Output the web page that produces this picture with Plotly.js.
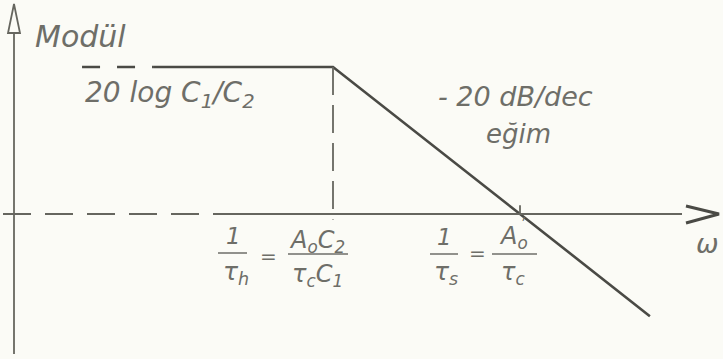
<!DOCTYPE html>
<html>
<head>
<meta charset="utf-8">
<script src="https://cdn.plot.ly/plotly-3.0.1.min.js"></script>
<style>
  html, body { margin: 0; padding: 0; background: #fbfbf6; }
  #chart { width: 723px; height: 359px; }
</style>
</head>
<body>
<div id="chart"></div>
<script>
// Asymptotic Bode magnitude plot (schematic): flat gain, corner at 1/τh,
// -20 dB/dec roll-off crossing 0 dB at 1/τs.
const cornerOmega = 1;          // 1/τh
const unityOmega = 100;         // 1/τs = A0/τc
const plateauDb = 40;           // 20 log C1/C2

// lead-in of the flat part (drawn dashed)
const leadOmega = [0.00207, 0.0119];
const leadDb = [40, 40];

// asymptote: flat, then -20 dB/dec
const asymOmega = [0.0119, 1, 100, 2450];
const asymDb = [40, 40, 0, -27.8];

// dashed drop line under the corner, tick at the 0 dB crossing
const dropDb = [40, -1.5];
const tickDb = [0, 2.4];

const W = 723, H = 359;
const px = p => p / W;
const py = p => 1 - p / H;
const path = pts => pts.map((p, i) => (i ? 'L' : 'M') + px(p[0]).toFixed(5) + ',' + py(p[1]).toFixed(5)).join(' ');

const ink = '#4a4a45';
const axisInk = '#66665f';
const textInk = '#6e6e68';
const FONT = 'DejaVu Sans';

const traces = [
  { x: leadOmega, y: leadDb, mode: 'lines', line: { color: ink, width: 2.6, dash: '18px,17px' }, hoverinfo: 'skip' },
  { x: asymOmega, y: asymDb, mode: 'lines', line: { color: ink, width: 2.6 }, hoverinfo: 'skip' },
  { x: [cornerOmega, cornerOmega], y: dropDb, mode: 'lines', line: { color: axisInk, width: 1.8, dash: '28px,10px' }, hoverinfo: 'skip' },
  { x: [unityOmega, unityOmega], y: tickDb, mode: 'lines', line: { color: axisInk, width: 1.8 }, hoverinfo: 'skip' }
];

function label(text, x, y, size, extra) {
  return Object.assign({
    xref: 'paper', yref: 'paper', x: px(x), y: py(y),
    xanchor: 'center', yanchor: 'middle', showarrow: false,
    text: text,
    font: { family: FONT, size: size, color: textInk, style: 'italic' }
  }, extra || {});
}

function bar(x0, x1, y) {
  return { type: 'line', xref: 'paper', yref: 'paper', x0: px(x0), x1: px(x1), y0: py(y), y1: py(y),
           line: { color: textInk, width: 1.5 } };
}

const annotations = [
  label('Modül', 80, 36, 30),
  label('20 log C<sub>1</sub>/C<sub>2</sub>', 170, 94, 28),
  label('- 20 dB/dec', 515, 97, 27),
  label('eğim', 518, 134, 26),
  label('ω', 707, 244, 27),
  // 1/τh = A0C2 / τcC1
  label('1', 233, 236, 23),
  label('τ<sub>h</sub>', 236, 273, 25),
  label('=', 268, 256, 20),
  label('A<sub>o</sub>C<sub>2</sub>', 317, 241, 24),
  label('τ<sub>c</sub>C<sub>1</sub>', 317, 275, 24),
  // 1/τs = A0/τc
  label('1', 444, 237, 23),
  label('τ<sub>s</sub>', 446, 273, 25),
  label('=', 477, 253, 20),
  label('A<sub>o</sub>', 513, 237, 24),
  label('ʹ', 523, 225, 15),
  label('τ<sub>c</sub>', 513, 273, 24)
];

const shapes = [
  // vertical axis with open arrowhead
  { type: 'line', xref: 'paper', yref: 'paper', x0: px(14), x1: px(14), y0: py(33), y1: py(354), line: { color: axisInk, width: 1.8 } },
  { type: 'path', xref: 'paper', yref: 'paper', path: path([[14, 4], [8, 33], [20, 33]]) + ' Z', line: { color: axisInk, width: 1.8 }, fillcolor: 'rgba(0,0,0,0)' },
  // horizontal axis: dashed on the left, solid to the arrow
  { type: 'line', xref: 'paper', yref: 'y', x0: px(3), x1: px(218), y0: 0, y1: 0, line: { color: axisInk, width: 1.8, dash: '28px,14px' } },
  { type: 'line', xref: 'paper', yref: 'y', x0: px(218), x1: px(682), y0: 0, y1: 0, line: { color: axisInk, width: 1.8 } },
  { type: 'path', xref: 'paper', yref: 'paper', path: path([[686, 206], [719, 214], [686, 223]]), line: { color: ink, width: 3 } },
  // fraction bars
  bar(218, 247, 253),
  bar(288, 348, 254),
  bar(430, 458, 254),
  bar(492, 537, 254)
];

const layout = {
  width: W, height: H,
  margin: { l: 0, r: 0, t: 0, b: 0 },
  paper_bgcolor: '#fbfbf6', plot_bgcolor: '#fbfbf6',
  showlegend: false,
  xaxis: { type: 'log', range: [-3.5615, 4.1711], visible: false, fixedrange: true },
  yaxis: { range: [-39.46, 58.23], visible: false, fixedrange: true },
  annotations: annotations,
  shapes: shapes
};

Plotly.newPlot('chart', traces, layout, { staticPlot: true, displayModeBar: false });
</script>
</body>
</html>
